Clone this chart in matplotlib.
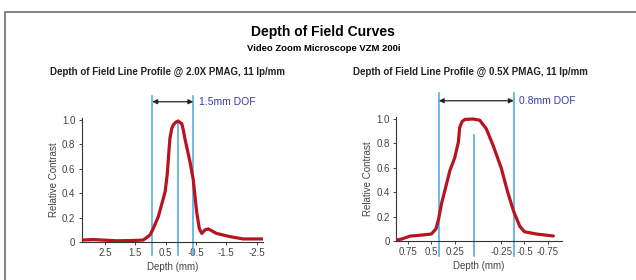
import numpy as np
from matplotlib import pyplot as plt
from matplotlib.patches import Rectangle

# Relative contrast vs depth
depth_20x = [3.27, 2.9, 2.11, 1.6, 1.24, 1.02, 0.91, 0.74, 0.52, 0.45, 0.40, 0.36, 0.30,
             0.25, 0.15, 0.08, -0.03, -0.08, -0.14, -0.30, -0.41, -0.52, -0.61, -0.69,
             -0.80, -0.91, -1.18, -1.62, -2.06, -2.72]
contrast_20x = [0.016, 0.02, 0.01, 0.012, 0.016, 0.057, 0.11, 0.21, 0.41, 0.55, 0.72,
                0.85, 0.93, 0.96, 0.985, 0.99, 0.97, 0.92, 0.84, 0.66, 0.51, 0.25, 0.11,
                0.07, 0.10, 0.107, 0.07, 0.044, 0.025, 0.025]

depth_05x = [0.87, 0.82, 0.73, 0.64, 0.50, 0.45, 0.42, 0.39, 0.35, 0.30, 0.25, 0.21,
             0.196, 0.17, 0.14, 0.05, -0.02, -0.09, -0.16, -0.25, -0.32, -0.385, -0.45,
             -0.50, -0.63, -0.81]
contrast_05x = [0.008, 0.016, 0.04, 0.046, 0.057, 0.10, 0.19, 0.31, 0.43, 0.58, 0.68,
                0.81, 0.93, 0.98, 0.997, 1.0, 0.99, 0.92, 0.79, 0.60, 0.40, 0.24, 0.12,
                0.076, 0.057, 0.041]

# depth of field markers: (near, best focus, far)
dof_20x = [0.94, 0.08, -0.41]
dof_05x = [0.42, 0.045, -0.385]

ticks_20x = [2.5, 1.5, 0.5, -0.5, -1.5, -2.5]
ticklabels_20x = ['2.5', '1.5', '0.5', '-0.5', '-1.5', '-2.5']
ticks_05x = [0.75, 0.5, 0.25, -0.25, -0.5, -0.75]
ticklabels_05x = ['0.75', '0.5', '0.25', '-0.25', '-0.5', '-0.75']

plt.rcParams['font.family'] = ['Liberation Sans', 'DejaVu Sans']

RED = '#b8141f'
BLUE = '#45a8e0'
GREY = '#444444'

fig = plt.figure(figsize=(6.36, 2.8), dpi=100)
fig.patches.append(Rectangle((5 / 636, -0.1), 1.0, 1.1 - 12 / 280,
                             transform=fig.transFigure, fill=False,
                             edgecolor='#7a7a7a', linewidth=1.3))

fig.text(0.508, 1 - 32 / 280, 'Depth of Field Curves', ha='center', va='center',
         fontsize=10, fontweight='heavy')
fig.text(0.509, 1 - 48 / 280, 'Video Zoom Microscope VZM 200i', ha='center',
         va='center', fontsize=6.8, fontweight='bold')


def panel(rect, depth, contrast, dof, xlim, ticks, labels, title, title_x, dof_text,
          ytop, ybot, ycenter_top):
    ax = fig.add_axes(rect)
    ax.plot(depth, contrast, color=RED, linewidth=2.3, solid_capstyle='round',
            solid_joinstyle='round', zorder=3)
    ax.set_xlim(xlim)
    ax.set_ylim(0, 1.02)
    for s in ['top', 'right']:
        ax.spines[s].set_visible(False)
    for s in ['left', 'bottom']:
        ax.spines[s].set_color('#333333')
        ax.spines[s].set_linewidth(0.8)
    ax.set_yticks([0, 0.2, 0.4, 0.6, 0.8, 1.0])
    ax.set_yticklabels(['0', '0.2', '0.4', '0.6', '0.8', '1.0'])
    ax.set_xticks(ticks)
    ax.set_xticklabels(labels)
    ax.tick_params(labelsize=7, colors=GREY, length=2.5, width=0.7, pad=2)
    ax.set_ylabel('Relative Contrast', fontsize=7, color=GREY, labelpad=2)
    ax.set_xlabel('Depth (mm)', fontsize=7, color=GREY, labelpad=3)

    near, best, far = dof
    for x, top in [(near, ytop), (best, ycenter_top), (far, ytop)]:
        ax.plot([x, x], [ybot, top], color=BLUE, linewidth=1.1, clip_on=False, zorder=2)
    ax.annotate('', xy=(far, 1.15), xytext=(near, 1.15), annotation_clip=False,
                arrowprops=dict(arrowstyle='<|-|>', color='#222222', lw=0.9,
                                mutation_scale=7, shrinkA=0, shrinkB=0))
    ax.annotate(dof_text, xy=(far, 1.15), xytext=(4, 0), textcoords='offset points',
                ha='left', va='center', fontsize=7.5, color='#3a3aa8',
                annotation_clip=False)
    fig.text(title_x, 1 - 72 / 280, title, ha='center', va='center', fontsize=7,
             fontweight='bold', color='#222222')
    return ax


panel([81.7 / 636, 38 / 280, 181.6 / 636, 124.4 / 280], depth_20x, contrast_20x,
      dof_20x, (3.27, -2.72), ticks_20x, ticklabels_20x,
      'Depth of Field Line Profile @ 2.0X PMAG, 11 lp/mm', 168 / 636, '1.5mm DOF',
      1.2, -0.107, 1.0)
panel([396 / 636, 39 / 280, 165.7 / 636, 124.4 / 280], depth_05x, contrast_05x,
      dof_05x, (0.88, -0.9), ticks_05x, ticklabels_05x,
      'Depth of Field Line Profile @ 0.5X PMAG, 11 lp/mm', 470 / 636, '0.8mm DOF',
      1.21, -0.12, 0.87)

plt.savefig('out.png', dpi=100)
